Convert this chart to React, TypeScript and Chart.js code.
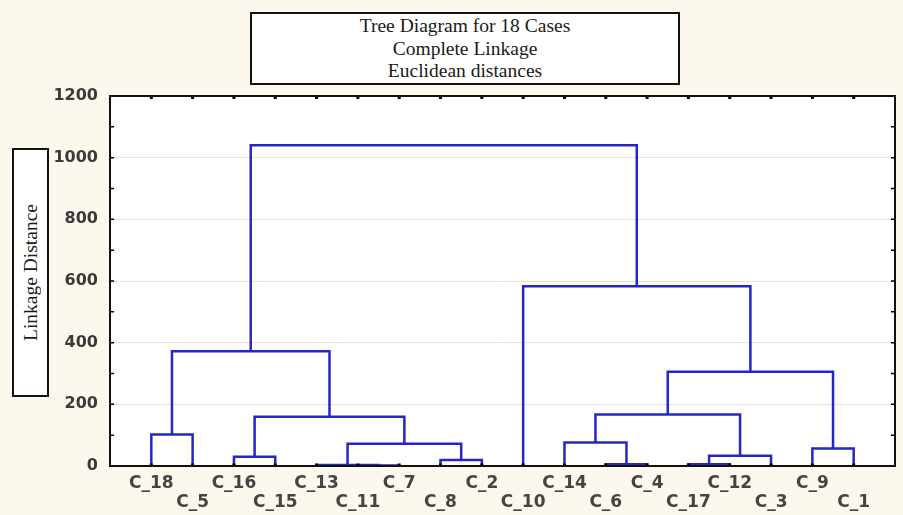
import React, { useEffect, useRef } from "react";
import { Chart, registerables } from "chart.js";

Chart.register(...registerables);

// Leaves in display order
const leafLabels = [
  "C_18", "C_5", "C_16", "C_15", "C_13", "C_11", "C_7", "C_8", "C_2",
  "C_10", "C_14", "C_6", "C_4", "C_17", "C_12", "C_3", "C_9", "C_1",
];
// Merge steps: node ids 0..17 are leaves, merge k creates node 18+k
const mergeLeft = [5, 4, 11, 13, 7, 2, 21, 16, 19, 10, 0, 23, 27, 30, 28, 9, 32];
const mergeRight = [6, 18, 12, 14, 8, 3, 15, 17, 22, 20, 1, 26, 24, 25, 29, 31, 33];
const mergeHeights = [1.5, 3, 6, 6, 19.5, 30, 33.5, 57, 72, 76, 102, 160, 167, 306, 372, 583, 1040];
const yTickValues = [0, 200, 400, 600, 800, 1000, 1200];
const titleLines = ["Tree Diagram for 18 Cases", "Complete Linkage", "Euclidean distances"];
const yAxisTitle = "Linkage Distance";

const CREAM = "#fcf8ee";
const BLUE = "#2626c4";

export default function App() {
  const canvasRef = useRef<HTMLCanvasElement | null>(null);

  useEffect(() => {
    if (!canvasRef.current) return;
    const nodeX: number[] = leafLabels.map((_, i) => i + 1);
    const nodeH: number[] = leafLabels.map(() => 0);
    const datasets: any[] = [];
    mergeHeights.forEach((h, k) => {
      const l = mergeLeft[k];
      const r = mergeRight[k];
      const xl = nodeX[l];
      const xr = nodeX[r];
      datasets.push({
        data: [
          { x: xl, y: nodeH[l] },
          { x: xl, y: h },
          { x: xr, y: h },
          { x: xr, y: nodeH[r] },
        ],
        borderColor: BLUE,
        borderWidth: 2.5,
        pointRadius: 0,
        tension: 0,
        fill: false,
        borderJoinStyle: "miter",
      });
      nodeX.push((xl + xr) / 2);
      nodeH.push(h);
    });

    const bgPlugin = {
      id: "bg",
      beforeDraw(chart: any) {
        const { ctx, chartArea: a } = chart;
        ctx.save();
        ctx.fillStyle = CREAM;
        ctx.fillRect(0, 0, chart.width, chart.height);
        ctx.fillStyle = "#ffffff";
        ctx.fillRect(a.left, a.top, a.right - a.left, a.bottom - a.top);
        ctx.restore();
      },
    };

    const framePlugin = {
      id: "frame",
      afterDraw(chart: any) {
        const { ctx, chartArea: a, scales } = chart;
        ctx.save();
        ctx.strokeStyle = "#000";
        ctx.fillStyle = "#000";
        ctx.lineWidth = 1.5;
        for (let v = 100; v < 1200; v += 100) {
          const y = scales.y.getPixelForValue(v);
          ctx.beginPath();
          ctx.moveTo(a.left, y);
          ctx.lineTo(a.left + 4, y);
          ctx.moveTo(a.right, y);
          ctx.lineTo(a.right - 4, y);
          ctx.stroke();
        }
        leafLabels.forEach((_, i) => {
          const x = scales.x.getPixelForValue(i + 1);
          ctx.fillRect(x - 1.5, a.top, 3, 3);
          ctx.fillRect(x - 1.5, a.bottom - 2.5, 3, 2.5);
        });
        ctx.lineWidth = 2;
        ctx.strokeStyle = "#111";
        ctx.strokeRect(a.left, a.top, a.right - a.left, a.bottom - a.top);
        ctx.restore();
      },
    };

    const chart = new Chart(canvasRef.current, {
      type: "line",
      data: { datasets },
      options: {
        animation: false,
        responsive: false,
        devicePixelRatio: 1,
        layout: { padding: { top: 96, right: 8, left: 0, bottom: 0 } },
        plugins: {
          legend: { display: false },
          tooltip: { enabled: false },
          title: { display: false },
        },
        scales: {
          x: {
            type: "linear",
            min: 0,
            max: 19,
            afterBuildTicks(scale: any) {
              scale.ticks = leafLabels.map((_, i) => ({ value: i + 1 }));
            },
            afterFit(scale: any) {
              scale.height = 49;
            },
            grid: { display: false, drawTicks: false },
            border: { display: false },
            ticks: {
              autoSkip: false,
              maxRotation: 0,
              minRotation: 0,
              padding: 8,
              color: "#444",
              font: { family: "DejaVu Sans", size: 17, weight: "bold", lineHeight: 1.12 },
              callback(value: any) {
                const idx = Math.round(Number(value)) - 1;
                const lab = leafLabels[idx] ?? "";
                return idx % 2 === 0 ? [lab, ""] : ["", lab];
              },
            },
          },
          y: {
            type: "linear",
            min: 0,
            max: 1200,
            afterBuildTicks(scale: any) {
              scale.ticks = yTickValues.map((v) => ({ value: v }));
            },
            afterFit(scale: any) {
              scale.width = 110;
            },
            grid: { color: "#e3e3e3", lineWidth: 1, drawTicks: false },
            border: { display: false },
            ticks: {
              padding: 12,
              color: "#3a3a3a",
              font: { family: "DejaVu Sans", size: 16, weight: "bold" },
              callback(value: any) {
                return String(value);
              },
            },
          },
        },
      },
      plugins: [bgPlugin, framePlugin],
    } as any);
    return () => chart.destroy();
  }, []);

  return (
    <div style={{ position: "absolute", left: 0, top: 0, width: 903, height: 515, background: CREAM }}>
      <canvas ref={canvasRef} width={903} height={515} style={{ width: 903, height: 515, display: "block" }} />
      <div
        style={{
          position: "absolute",
          left: 250,
          top: 12,
          width: 430,
          height: 73,
          boxSizing: "border-box",
          border: "2px solid #111",
          background: "#fff",
          textAlign: "center",
          fontFamily: "'Liberation Serif', serif",
          fontSize: 19.5,
          lineHeight: "22.5px",
          color: "#1a1a1a",
          paddingTop: 1,
        }}
      >
        {titleLines.map((t) => (
          <div key={t}>{t}</div>
        ))}
      </div>
      <div
        style={{
          position: "absolute",
          left: 12,
          top: 148,
          width: 37,
          height: 249,
          boxSizing: "border-box",
          border: "2px solid #111",
          background: "#fff",
          display: "flex",
          alignItems: "center",
          justifyContent: "center",
        }}
      >
        <div
          style={{
            writingMode: "vertical-rl",
            transform: "rotate(180deg)",
            fontFamily: "'Liberation Serif', serif",
            fontSize: 19.5,
            color: "#1a1a1a",
            whiteSpace: "nowrap",
          }}
        >
          {yAxisTitle}
        </div>
      </div>
    </div>
  );
}
